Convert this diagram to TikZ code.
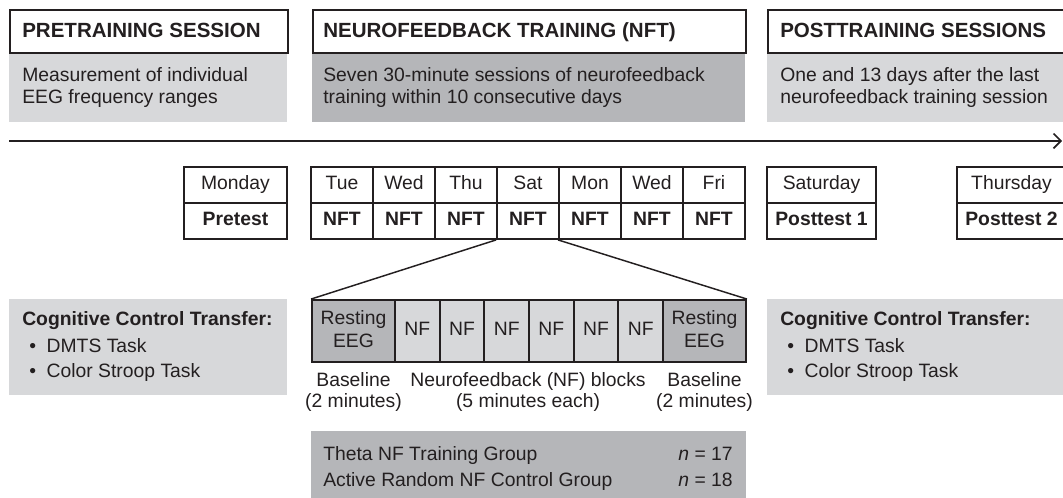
\documentclass[tikz,border=0pt]{standalone}
\usepackage{fontspec}
\setmainfont{Liberation Sans}
\usetikzlibrary{arrows.meta}
\definecolor{txt}{HTML}{231F20}
\definecolor{lgray}{HTML}{D7D8DA}
\definecolor{dgray}{HTML}{B5B6B9}
\newcommand\fbody{\fontsize{14.5}{17}\selectfont}
\newcommand\ftitle{\fontsize{15.4}{18}\selectfont\bfseries}
\begin{document}
\begin{tikzpicture}[x=0.75pt,y=-0.75pt,
  tbox/.style={draw=txt, line width=1.4pt, fill=white, inner sep=0pt, anchor=north west},
  gbox/.style={fill=lgray, inner sep=0pt, anchor=north west},
  lab/.style={inner sep=0pt, anchor=base west, font=\fbody, text=txt},
  clab/.style={inner sep=0pt, anchor=base, font=\fbody, text=txt},
  cell/.style={draw=txt, line width=1.4pt, inner sep=0pt, minimum width=46.5pt,
    minimum height=27pt, text height=0.716em, text depth=0pt, font=\fbody, text=txt},
  fan/.style={draw=txt, line width=1.1pt}]
\useasboundingbox (0,0) rectangle (1063,498);
\clip (0,0) rectangle (1063,498);

% ---------- top phase boxes ----------
\node[gbox, minimum width=208.5pt, minimum height=52.5pt] (preb) at (9,52) {};
\node[gbox, fill=dgray, minimum width=324.75pt, minimum height=52.5pt] (nftb) at (312,52) {};
\node[gbox, minimum width=224.25pt, minimum height=52.5pt] (postb) at (767,52) {};

\node[tbox, minimum width=208.5pt, minimum height=32.25pt] (pret) at (9,9) {};
\node[tbox, minimum width=324.75pt, minimum height=32.25pt] (nftt) at (312,9) {};
\node[tbox, minimum width=224.25pt, minimum height=32.25pt] (postt) at (767,9) {};

\node[lab, font=\ftitle] (preT) at (22,38) {PRETRAINING SESSION};
\node[lab, font=\ftitle] (nftT) at (323,38) {NEUROFEEDBACK TRAINING (NFT)};
\node[lab, font=\ftitle] (postT) at (780,38) {POSTTRAINING SESSIONS};

\node[lab] (pre1) at (22,82) {Measurement of individual};
\node[lab] (pre2) at (22,104) {EEG frequency ranges};
\node[lab] (nft1) at (323,82) {Seven 30-minute sessions of neurofeedback};
\node[lab] (nft2) at (323,104) {training within 10 consecutive days};
\node[lab] (post1) at (780,82) {One and 13 days after the last};
\node[lab] (post2) at (780,104) {neurofeedback training session};

% ---------- time arrow ----------
\coordinate (tstart) at (9,141);
\coordinate (tend) at (1062,141);
\draw[draw=txt, line width=1.4pt, -{Straight Barb[length=5.5pt, width=11pt, line width=1.2pt]}] (tstart) -- (tend);

% ---------- day table ----------
\node[cell, minimum width=77.25pt] (monday) at (235.5,185) {Monday};
\node[cell, minimum width=77.25pt, font=\fbody\bfseries] (pretest) at (235.5,221) {Pretest};

\foreach \d [count=\i] in {Tue,Wed,Thu,Sat,Mon,Wed,Fri} {
  \node[cell] (d\i) at ({280+62*\i},185) {\d};
  \node[cell, font=\fbody\bfseries] (n\i) at ({280+62*\i},221) {NFT};
}

\node[cell, minimum width=81.75pt] (sat) at (821.5,185) {Saturday};
\node[cell, minimum width=81.75pt, font=\fbody\bfseries] (post1c) at (821.5,221) {Posttest 1};
\node[cell, minimum width=81.75pt] (thu) at (1011.5,185) {Thursday};
\node[cell, minimum width=81.75pt, font=\fbody\bfseries] (post2c) at (1011.5,221) {Posttest 2};

% ---------- session block ----------
\node[cell, fill=dgray, minimum width=62.25pt, minimum height=46.5pt] (r1) at (353.5,331) {};
\foreach \i in {1,...,6} {
  \node[cell, fill=lgray, minimum width=33.5pt, minimum height=46.5pt] (f\i) at ({372.67+44.67*\i},331) {NF};
}
\node[cell, fill=dgray, minimum width=62.25pt, minimum height=46.5pt] (r2) at (704.5,331) {};
\node[clab] (r1a) at (353.5,325) {Resting};
\node[clab] (r1b) at (353.5,348) {EEG};
\node[clab] (r2a) at (704.5,325) {Resting};
\node[clab] (r2b) at (704.5,348) {EEG};

\draw[fan] (n4.south west) -- (r1.north west);
\draw[fan] (n5.south west) -- (r2.north east);

\node[clab] (bl1) at (353.5,387) {Baseline};
\node[clab] (bl1b) at (353.5,408) {(2 minutes)};
\node[clab] (nfl) at (528,387) {Neurofeedback (NF) blocks};
\node[clab] (nflb) at (528,408) {(5 minutes each)};
\node[clab] (bl2) at (704.5,387) {Baseline};
\node[clab] (bl2b) at (704.5,408) {(2 minutes)};

% ---------- cognitive control boxes ----------
\node[gbox, minimum width=208.5pt, minimum height=72pt] (cctl) at (9,299) {};
\node[lab, font=\fbody\bfseries] (cctlT) at (22,326) {Cognitive Control Transfer:};
\node[lab] (cctl1) at (29,353) {\textbullet\hspace{0.55em}DMTS Task};
\node[lab] (cctl2) at (29,378) {\textbullet\hspace{0.55em}Color Stroop Task};

\node[gbox, minimum width=224.25pt, minimum height=72pt] (cctr) at (767,299) {};
\node[lab, font=\fbody\bfseries] (cctrT) at (780,326) {Cognitive Control Transfer:};
\node[lab] (cctr1) at (787,353) {\textbullet\hspace{0.55em}DMTS Task};
\node[lab] (cctr2) at (787,378) {\textbullet\hspace{0.55em}Color Stroop Task};

% ---------- groups ----------
\node[gbox, fill=dgray, minimum width=326.25pt, minimum height=52pt] (grp) at (311,431) {};
\node[lab] (g1) at (323,460) {Theta NF Training Group};
\node[lab] (g2) at (323,486) {Active Random NF Control Group};
\node[clab, anchor=base east] (g1n) at (733,460) {\textit{n} = 17};
\node[clab, anchor=base east] (g2n) at (733,486) {\textit{n} = 18};
\end{tikzpicture}
\end{document}
